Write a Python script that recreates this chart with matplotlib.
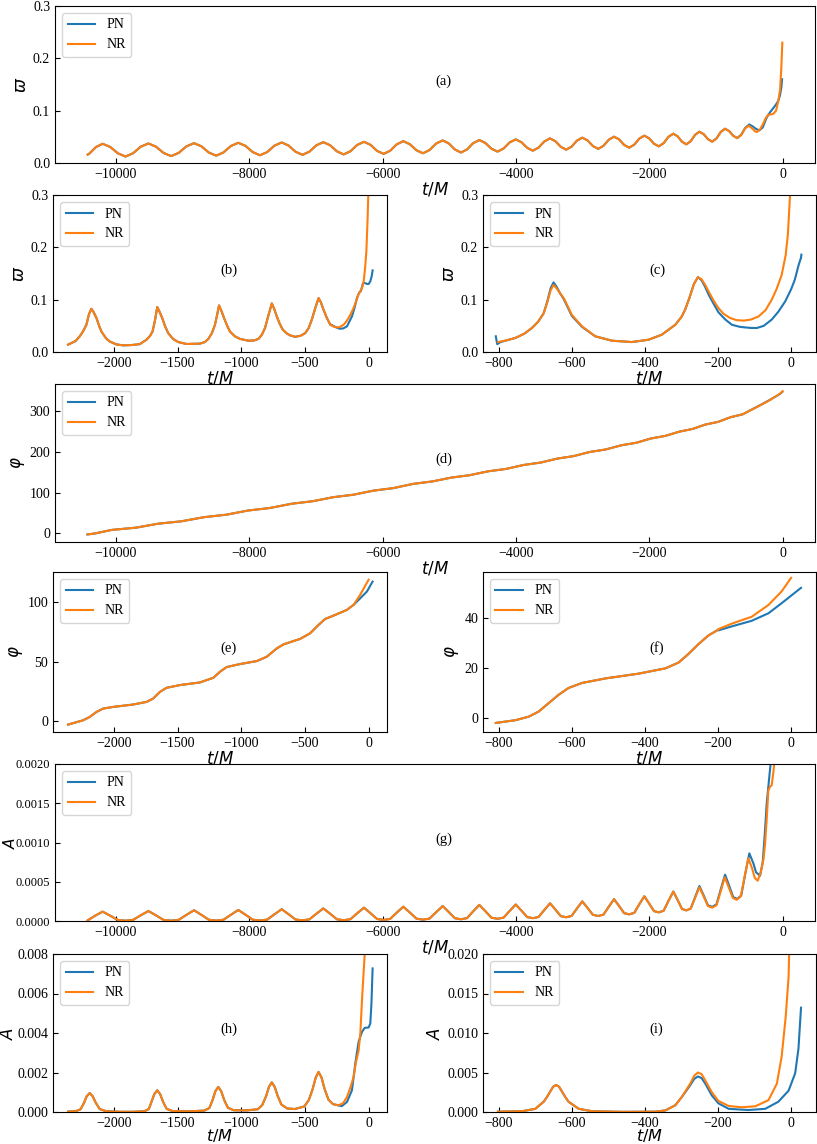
import numpy as np
import matplotlib
matplotlib.use("Agg")
import matplotlib.pyplot as plt

plt.rcParams['font.family'] = ['Liberation Serif', 'DejaVu Serif']
plt.rcParams['mathtext.fontset'] = 'dejavusans'

# ---- (a) frequency, full run ----
ta_common = [-10425, -10400, -10300, -10200, -10086, -9972, -9858, -9744, -9630, -9515,
             -9401, -9287, -9173, -9059, -8945, -8830, -8719, -8608, -8498, -8388, -8277, -8166,
             -8058, -7949, -7841, -7732, -7624, -7515, -7411, -7307, -7203, -7099, -6995, -6891,
             -6789, -6687, -6586, -6484, -6383, -6281, -6183, -6085, -5986, -5888, -5790, -5691,
             -5593, -5494, -5396, -5297, -5199, -5100, -5009, -4917, -4826, -4734, -4643, -4551,
             -4460, -4369, -4278, -4187, -4096, -4005, -3919, -3833, -3748, -3662, -3576, -3490,
             -3409, -3329, -3248, -3167, -3087, -3006, -2927, -2847, -2768, -2689, -2609, -2530,
             -2454, -2379, -2303, -2227, -2152, -2076, -2004, -1931, -1859, -1786, -1714, -1641,
             -1576, -1511, -1446, -1380, -1315, -1250, -1186, -1122, -1058, -993, -929, -865,
             -804, -743, -683]
wa_common = [0.016, 0.018, 0.0305, 0.0367, 0.0306, 0.0185, 0.0124, 0.0186, 0.0311, 0.0373,
             0.0313, 0.0192, 0.0132, 0.0194, 0.0317, 0.0379, 0.0319, 0.0200, 0.0140, 0.0202, 0.0325, 0.0386,
             0.0327, 0.0208, 0.0148, 0.0209, 0.0331, 0.0392, 0.0333, 0.0215, 0.0156, 0.0217, 0.0338, 0.0398,
             0.0340, 0.0223, 0.0164, 0.0224, 0.0345, 0.0405, 0.0347, 0.0232, 0.0174, 0.0235, 0.0356, 0.0417,
             0.0359, 0.0244, 0.0186, 0.0248, 0.0371, 0.0432, 0.0374, 0.0258, 0.0200, 0.0260, 0.0379, 0.0438,
             0.0383, 0.0273, 0.0218, 0.0276, 0.0393, 0.0451, 0.0397, 0.0290, 0.0236, 0.0295, 0.0412, 0.0470,
             0.0416, 0.0309, 0.0255, 0.0312, 0.0427, 0.0484, 0.0431, 0.0324, 0.0270, 0.0328, 0.0445, 0.0503,
             0.0451, 0.0346, 0.0293, 0.0350, 0.0465, 0.0522, 0.0471, 0.0369, 0.0318, 0.0379, 0.0500, 0.0560,
             0.0509, 0.0407, 0.0356, 0.0417, 0.0538, 0.0598, 0.0551, 0.0456, 0.0408, 0.0470, 0.0593, 0.0655,
             0.0610, 0.0521, 0.0476]
ta_pn = [-622, -562, -501, -451, -401, -351, -300, -240, -190, -141, -100, -66, -40, -20, -10]
wa_pn = [0.0541, 0.0672, 0.0737, 0.0700, 0.0652, 0.0623, 0.068, 0.087, 0.097, 0.105, 0.112, 0.119,
         0.130, 0.145, 0.160]
ta_nr = [-622, -566, -510, -450, -420, -390, -340, -290, -250, -216, -170, -141, -100, -66, -40, -20, -6]
wa_nr = [0.0535, 0.0660, 0.0712, 0.0650, 0.0610, 0.0590, 0.0640, 0.0760, 0.0870, 0.0920, 0.0930,
         0.0940, 0.1000, 0.1190, 0.1400, 0.1850, 0.2300]

# ---- (b) frequency, last part ----
tb_common = [-2359, -2300, -2267, -2240, -2215, -2195, -2176, -2158, -2136, -2115, -2097, -2060,
             -2031, -1980, -1927, -1860, -1796, -1743, -1715, -1696, -1677, -1659, -1641, -1620,
             -1597, -1573, -1535, -1494, -1429, -1324, -1285, -1258, -1230, -1206, -1190, -1174,
             -1156, -1135, -1110, -1088, -1050, -1009, -944, -900, -865, -838, -813, -790, -760,
             -742, -721, -698, -674, -640, -616, -577, -535, -498, -470, -446, -420, -393, -375,
             -354, -328, -301]
wb_common = [0.014, 0.021, 0.030, 0.040, 0.052, 0.072, 0.0826, 0.076, 0.065, 0.050, 0.039, 0.026,
             0.020, 0.0145, 0.0127, 0.0133, 0.015, 0.0235, 0.031, 0.039, 0.060, 0.0858, 0.077, 0.065,
             0.049, 0.036, 0.025, 0.019, 0.0153, 0.016, 0.019, 0.025, 0.036, 0.052, 0.070, 0.089,
             0.079, 0.065, 0.050, 0.039, 0.030, 0.025, 0.0216, 0.022, 0.025, 0.033, 0.046, 0.067, 0.0928,
             0.083, 0.068, 0.054, 0.0426, 0.035, 0.0318, 0.029, 0.031, 0.036, 0.046, 0.062, 0.083, 0.103, 0.095,
             0.0807, 0.065, 0.052]
tb_pn = [-301, -270, -249, -228, -200, -170, -131, -110, -92, -75, -60, -45, -34, -20, -13, 0, 13, 24, 31]
wb_pn = [0.053, 0.049, 0.0465, 0.0445, 0.045, 0.049, 0.068, 0.085, 0.103, 0.113, 0.117, 0.131, 0.132,
         0.131, 0.130, 0.130, 0.135, 0.145, 0.156]
tb_nr = [-301, -270, -249, -228, -197, -170, -144, -120, -97, -80, -66, -50, -39, -28, -18, -8, -3, -1]
wb_nr = [0.052, 0.048, 0.047, 0.0475, 0.052, 0.060, 0.071, 0.083, 0.098, 0.110, 0.116, 0.124, 0.135,
         0.160, 0.192, 0.256, 0.30, 0.33]

# ---- (c) frequency, final orbits ----
tc_pn = [-808, -806, -804, -795, -780, -754, -730, -709, -692, -677, -667, -658, -650, -642, -632,
         -622, -600, -572, -536, -490, -436, -390, -354, -317, -300, -290, -278, -266, -255, -245,
         -235, -226, -212, -199, -180, -162, -140, -126, -110, -94, -75, -53, -35, -16, 0, 10, 20,
         25, 27, 28]
wc_pn = [0.030, 0.022, 0.015, 0.019, 0.022, 0.027, 0.035, 0.046, 0.058, 0.074, 0.097, 0.122, 0.133,
         0.125, 0.112, 0.101, 0.069, 0.048, 0.030, 0.0216, 0.019, 0.0235, 0.033, 0.052, 0.067, 0.081,
         0.104, 0.130, 0.143, 0.137, 0.124, 0.110, 0.092, 0.076, 0.062, 0.052, 0.048, 0.047, 0.046,
         0.0458, 0.050, 0.062, 0.077, 0.097, 0.120, 0.138, 0.165, 0.176, 0.180, 0.186]
tc_nr = [-802, -780, -754, -730, -709, -692, -677, -667, -658, -650, -642, -632, -622, -600, -572,
         -536, -490, -436, -390, -354, -317, -300, -290, -278, -266, -255, -245, -235, -226, -212,
         -199, -185, -167, -150, -130, -110, -89, -70, -53, -40, -26, -15, -9, -3, -1]
wc_nr = [0.019, 0.022, 0.027, 0.035, 0.046, 0.058, 0.074, 0.095, 0.118, 0.128, 0.122, 0.112, 0.103,
         0.071, 0.049, 0.030, 0.0216, 0.019, 0.0235, 0.033, 0.052, 0.067, 0.081, 0.104, 0.130, 0.143,
         0.139, 0.128, 0.116, 0.098, 0.084, 0.073, 0.065, 0.061, 0.060, 0.062, 0.068, 0.080, 0.100,
         0.120, 0.147, 0.185, 0.224, 0.30, 0.33]

# ---- (d) phase, full run ----
td_common = [-10428, -10320, -10060, -9700, -9370, -9020, -8680, -8340, -8020, -7690, -7370, -7050,
             -6740, -6440, -6140, -5840, -5550, -5250, -4970, -4700, -4420, -4150, -3885, -3630,
             -3378, -3135, -2898, -2660, -2423, -2196, -1978, -1761, -1548, -1352, -1162, -970,
             -782, -600]
phd_common = [-2.5, -0.2, 8.7, 14.1, 23.8, 29.7, 39.8, 46.0, 56.1, 62.3, 72.6, 78.9, 88.8, 94.8,
              104.8, 111.0, 121.2, 127.5, 136.8, 142.5, 152.1, 158.0, 167.7, 173.6, 183.4, 189.4,
              199.4, 205.5, 215.8, 222.1, 232.5, 238.9, 249.4, 255.9, 266.6, 273.2, 284.7, 291.8]
td_pn = [-600, -430, -300, -200, -100, -40, -8]
phd_pn = [291.8, 306.5, 317.5, 326.5, 336.0, 342.0, 346.5]
td_nr = [-600, -430, -300, -200, -100, -40, 0]
phd_nr = [291.8, 306.0, 317.0, 326.0, 336.0, 342.5, 348.5]

# ---- (e) phase, last part ----
te_common = [-2359, -2300, -2241, -2189, -2136, -2084, -2005, -1848, -1743, -1691, -1638, -1586,
             -1481, -1324, -1219, -1166, -1114, -1009, -878, -800, -721, -668, -537, -459, -393,
             -341, -275, -170, -118]
phe_common = [-2.8, -1.0, 0.8, 3.6, 7.8, 10.6, 12.0, 14.0, 16.2, 19.0, 24.6, 28.0, 30.3, 32.5, 36.4,
              41.5, 45.4, 47.9, 50.4, 54.0, 61.0, 64.4, 69.0, 73.7, 80.7, 85.7, 88.5, 93.3, 97.5]
te_pn = [-118, -66, -13, 31]
phe_pn = [97.5, 103.0, 108.7, 117.0]
te_nr = [-118, -66, -26, 0]
phe_nr = [97.5, 106.0, 113.7, 118.5]

# ---- (f) phase, final orbits ----
tf_common = [-808, -754, -718, -691, -663, -636, -609, -572, -508, -417, -344, -308, -281, -253,
             -226, -199]
phf_common = [-1.8, -0.7, 0.7, 2.7, 6.1, 9.4, 12.1, 14.1, 15.9, 17.8, 19.9, 22.2, 25.6, 29.6, 33.0,
              35.3]
tf_pn = [-199, -162, -108, -62, -26, 27]
phf_pn = [35.0, 36.6, 38.8, 41.8, 45.8, 51.9]
tf_nr = [-199, -162, -108, -62, -26, 0]
phf_nr = [35.5, 37.7, 40.4, 45.1, 50.5, 55.9]

# ---- (g) amplitude, full run ----
tg_common = [-10425, -10314, -10200, -10086, -9972, -9858, -9744, -9630, -9515, -9401, -9287, -9173,
             -9059, -8945, -8830, -8719, -8608, -8498, -8388, -8277, -8166, -8058, -7949, -7841,
             -7732, -7624, -7515, -7411, -7307, -7203, -7099, -6995, -6891, -6789, -6687, -6586,
             -6484, -6383, -6281, -6183, -6085, -5986, -5888, -5790, -5691, -5593, -5494, -5396,
             -5297, -5199, -5100, -5009, -4917, -4826, -4734, -4643, -4551, -4460, -4369, -4278,
             -4187, -4096, -4005, -3919, -3833, -3748, -3662, -3576, -3490, -3409, -3329, -3248,
             -3167, -3087, -3006, -2927, -2847, -2768, -2689, -2609, -2530, -2454, -2379, -2303,
             -2227, -2152, -2076, -2004, -1931, -1859, -1786, -1714, -1641, -1576, -1511, -1446,
             -1380]
Ag_common = [0.000008, 0.000067, 0.000119, 0.000067, 0.000013, 0.000004, 0.000014, 0.000072, 0.000127,
             0.000072, 0.000014, 0.000004, 0.000015, 0.000077, 0.000137, 0.000078, 0.000016, 0.000005,
             0.000016, 0.000079, 0.000140, 0.000080, 0.000017, 0.000006, 0.000018, 0.000085, 0.000150,
             0.000086, 0.000019, 0.000008, 0.000021, 0.000092, 0.000160, 0.000093, 0.000022, 0.000010,
             0.000023, 0.000098, 0.000170, 0.000099, 0.000026, 0.000013, 0.000027, 0.000106, 0.000182,
             0.000108, 0.000030, 0.000017, 0.000031, 0.000112, 0.000190, 0.000114, 0.000035, 0.000022,
             0.000037, 0.000123, 0.000205, 0.000125, 0.000042, 0.000028, 0.000043, 0.000128, 0.000210,
             0.000132, 0.000050, 0.000036, 0.000051, 0.000140, 0.000225, 0.000145, 0.000062, 0.000048,
             0.000064, 0.000159, 0.000250, 0.000166, 0.000079, 0.000064, 0.000081, 0.000182, 0.000278,
             0.000191, 0.000100, 0.000085, 0.000103, 0.000212, 0.000315, 0.000223, 0.000126, 0.000110,
             0.000131, 0.000256, 0.000375, 0.000267, 0.000154, 0.000135, 0.000159]
tg_pn = [-1315, -1250, -1186, -1122, -1058, -993, -929, -865, -804, -743, -683, -622, -562, -501,
         -440, -400, -340, -300, -270, -240, -200, -170, -140]
Ag_pn = [0.000302, 0.000446, 0.000326, 0.000201, 0.000180, 0.000213, 0.000406, 0.000590, 0.000451,
         0.000305, 0.000280, 0.000327, 0.000600, 0.000862, 0.000734, 0.000620, 0.000577, 0.00075,
         0.0011, 0.0015, 0.00185, 0.0021, 0.0024]
tg_nr = [-1315, -1250, -1186, -1122, -1058, -993, -929, -870, -809, -748, -690, -630, -573, -516,
         -460, -420, -375, -330, -290, -265, -240, -216, -190, -165, -140, -116, -100]
Ag_nr = [0.000293, 0.000430, 0.000313, 0.000190, 0.000170, 0.000201, 0.000382, 0.000556, 0.000427,
         0.000293, 0.000270, 0.000312, 0.000562, 0.000800, 0.000671, 0.000550, 0.000513, 0.00062,
         0.00078, 0.00098, 0.0013, 0.00166, 0.00171, 0.00173, 0.0019, 0.0021, 0.0023]

# ---- (h) amplitude, last part ----
th_common = [-2359, -2300, -2260, -2235, -2212, -2189, -2166, -2140, -2110, -2060, -1950, -1850,
             -1760, -1725, -1705, -1682, -1659, -1636, -1612, -1585, -1540, -1420, -1290, -1250,
             -1225, -1203, -1180, -1157, -1133, -1105, -1060, -960, -870, -835, -805, -782, -760,
             -738, -713, -685, -640, -580, -505, -470, -440, -415, -393, -370, -345, -315, -280]
Ah_common = [0.00002, 0.00004, 0.00014, 0.00045, 0.00080, 0.00096, 0.00080, 0.00045, 0.00015, 0.00004,
             0.00001, 0.00001, 0.00004, 0.00015, 0.00050, 0.00090, 0.00110, 0.00090, 0.00050, 0.00016,
             0.00005, 0.00003, 0.00007, 0.00020, 0.00060, 0.00105, 0.00127, 0.00105, 0.00060, 0.00022,
             0.00009, 0.00008, 0.00014, 0.00035, 0.00080, 0.00128, 0.00150, 0.00128, 0.00080, 0.00038,
             0.00018, 0.00015, 0.00028, 0.00060, 0.00115, 0.00175, 0.00203, 0.00175, 0.00115, 0.00062,
             0.00040]
th_pn = [-280, -236, -210, -170, -131, -105, -79, -52, -31, 0, 13, 22, 31]
Ah_pn = [0.00040, 0.00033, 0.00030, 0.00051, 0.0011, 0.00245, 0.00355, 0.00406, 0.00426, 0.00428,
         0.00448, 0.0055, 0.00727]
th_nr = [-280, -236, -200, -170, -140, -118, -100, -79, -65, -52, -31, -25]
Ah_nr = [0.00040, 0.00034, 0.00045, 0.00076, 0.0013, 0.00178, 0.0025, 0.0031, 0.0040, 0.0057, 0.0080,
         0.0088]

# ---- (i) amplitude, final orbits ----
ti_common = [-802, -736, -700, -677, -668, -659, -651, -643, -635, -627, -618, -609, -581, -545, -463,
             -372, -344, -317, -299]
Ai_common = [0.00004, 0.0001, 0.0004, 0.0013, 0.0019, 0.0026, 0.0032, 0.00342, 0.0032, 0.0026, 0.0019,
             0.0013, 0.0004, 0.0001, 0.00002, 0.00004, 0.0002, 0.00085, 0.0019]
ti_pn = [-299, -276, -265, -255, -245, -235, -217, -199, -171, -117, -71, -35, -7, 11, 20, 27]
Ai_pn = [0.0019, 0.0034, 0.0042, 0.0045, 0.0043, 0.0036, 0.0021, 0.0011, 0.0004, 0.00025, 0.0004,
         0.0013, 0.0027, 0.0049, 0.0080, 0.0132]
ti_nr = [-299, -276, -265, -255, -245, -235, -217, -199, -171, -135, -98, -62, -39, -26, -15, -7,
         -5.5, -4]
Ai_nr = [0.0019, 0.0036, 0.0046, 0.0050, 0.0048, 0.0040, 0.0025, 0.0014, 0.00076, 0.0006, 0.00072,
         0.0015, 0.0036, 0.0070, 0.012, 0.0171, 0.020, 0.022]


fig = plt.figure(figsize=(8.17, 11.44), dpi=100)
W, H = 817.0, 1144.0


def box(x0, x1, y0, y1):
    # pixel box -> figure fraction
    return [x0 / W, 1 - y1 / H, (x1 - x0) / W, (y1 - y0) / H]


def panel(rect, tpn, ypn, tnr, ynr, xlim, ylim, ylabel, tag, yticks=None):
    ax = fig.add_axes(rect)
    ax.plot(tpn, ypn, color='tab:blue', lw=1.5, label='PN')
    ax.plot(tnr, ynr, color='tab:orange', lw=1.5, label='NR')
    ax.set_xlim(*xlim)
    ax.set_ylim(*ylim)
    if yticks is not None:
        ax.set_yticks(yticks)
    ax.set_xlabel('$t/M$', fontsize=12, labelpad=0)
    ax.set_ylabel(ylabel, fontsize=12, labelpad=2)
    ax.tick_params(direction='in', labelsize=10)
    ax.text(0.5, 0.5, tag, transform=ax.transAxes, fontsize=10.5)
    ax.legend(loc='upper left', fontsize=10)
    return ax


xl_full = (-10915, 484)
xl_mid = (-2477, 144)
xl_end = (-843, 68)

panel(box(55, 815, 6, 163), ta_common + ta_pn, wa_common + wa_pn, ta_common + ta_nr, wa_common + wa_nr,
      xl_full, (0, 0.3), r'$\varpi$', '(a)')
panel(box(53, 387, 195, 352), tb_common + tb_pn, wb_common + wb_pn, tb_common + tb_nr, wb_common + wb_nr,
      xl_mid, (0, 0.3), r'$\varpi$', '(b)')
panel(box(483, 816, 195, 352), tc_pn, wc_pn, tc_nr, wc_nr, xl_end, (0, 0.3), r'$\varpi$', '(c)')

panel(box(55, 815, 384, 542), td_common + td_pn, phd_common + phd_pn, td_common + td_nr, phd_common + phd_nr,
      xl_full, (-21, 366), r'$\varphi$', '(d)')
panel(box(53, 387, 572, 732), te_common + te_pn, phe_common + phe_pn, te_common + te_nr, phe_common + phe_nr,
      xl_mid, (-9, 125), r'$\varphi$', '(e)', yticks=[0, 50, 100])
panel(box(483, 816, 572, 732), tf_common + tf_pn, phf_common + phf_pn, tf_common + tf_nr, phf_common + phf_nr,
      xl_end, (-5.4, 58.2), r'$\varphi$', '(f)')

ax_g = panel(box(55, 815, 764, 921), tg_common + tg_pn, Ag_common + Ag_pn, tg_common + tg_nr,
             Ag_common + Ag_nr, xl_full, (0, 0.002), r'$A$', '(g)')
ax_h = panel(box(53, 387, 954, 1112), th_common + th_pn, Ah_common + Ah_pn, th_common + th_nr,
             Ah_common + Ah_nr, xl_mid, (0, 0.008), r'$A$', '(h)')
ax_i = panel(box(483, 816, 954, 1112), ti_common + ti_pn, Ai_common + Ai_pn, ti_common + ti_nr,
             Ai_common + Ai_nr, xl_end, (0, 0.02), r'$A$', '(i)')

# keep the outer labels inside the canvas
ax_g.tick_params(axis='y', labelsize=9)
ax_g.set_ylabel(r'$A$', fontsize=11)
ax_g.yaxis.set_label_coords(-0.049, 0.5)
ax_h.yaxis.set_label_coords(-0.108, 0.5)
for ax in (ax_h, ax_i):
    ax.set_xlabel('$t/M$', fontsize=11.5)
    ax.xaxis.set_label_coords(0.5, -0.1)

fig.savefig('out.png', dpi=100)
